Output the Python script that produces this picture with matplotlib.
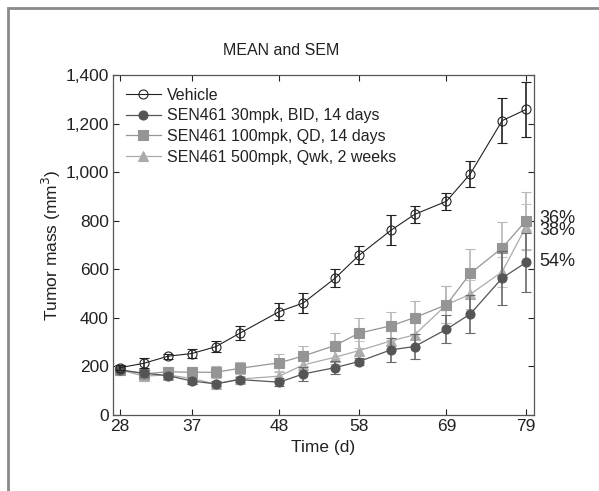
import matplotlib
matplotlib.use("Agg")
import matplotlib.pyplot as plt
from matplotlib.patches import Rectangle
from matplotlib.lines import Line2D
from matplotlib.ticker import FuncFormatter

plt.rcParams['font.family'] = ['Liberation Sans', 'DejaVu Sans']

days = [28, 31, 34, 37, 40, 43, 48, 51, 55, 58, 62, 65, 69, 72, 76, 79]
vehicle = [195, 213, 242, 253, 281, 336, 426, 461, 563, 657, 760, 826, 880, 993, 1212, 1258]
vehicle_sem = [10, 20, 10, 19, 23, 29, 36, 40, 37, 37, 62, 36, 34, 54, 94, 112]
d30 = [185, 172, 162, 140, 128, 146, 135, 169, 195, 220, 268, 282, 353, 416, 564, 628]
d30_sem = [10, 15, 12, 14, 10, 11, 16, 27, 26, 16, 50, 51, 58, 80, 110, 120]
d100 = [187, 169, 178, 176, 176, 192, 215, 243, 286, 337, 367, 401, 454, 583, 688, 800]
d100_sem = [12, 16, 14, 20, 25, 25, 38, 41, 52, 62, 58, 69, 76, 99, 106, 120]
d500 = [186, 160, 165, 150, 128, 148, 160, 206, 238, 265, 305, 330, 454, 497, 590, 775]
d500_sem = [12, 14, 14, 14, 12, 14, 20, 30, 30, 40, 40, 48, 76, 60, 62, 92]

labels = ["Vehicle", "SEN461 30mpk, BID, 14 days", "SEN461 100mpk, QD, 14 days",
          "SEN461 500mpk, Qwk, 2 weeks"]
xticks = [28, 37, 48, 58, 69, 79]
yticks = [0, 200, 400, 600, 800, 1000, 1200, 1400]
pct_labels = ["36%", "38%", "54%"]
pct_values = [807, 760, 630]

fig = plt.figure(figsize=(5.99, 4.91), dpi=100)
ax = fig.add_axes([0.1886, 0.1548, 0.7029, 0.6925])

styles = [
    dict(color='#222222', ecolor='#222222', marker='o', mfc='none', mec='#222222', mew=0.8, lw=0.8),
    dict(color='#555555', ecolor='#6a6a6a', marker='o', mfc='#555555', mec='#555555', mew=0.8, lw=0.9),
    dict(color='#959595', ecolor='#b8b8b8', marker='s', mfc='#959595', mec='#959595', mew=0.8, lw=0.9),
    dict(color='#ababab', ecolor='#c4c4c4', marker='^', mfc='#ababab', mec='#ababab', mew=0.8, lw=0.9),
]
series = [(vehicle, vehicle_sem), (d30, d30_sem), (d100, d100_sem), (d500, d500_sem)]
zorders = [5, 4, 3, 2]

for (vals, sem), st, z in zip(series, styles, zorders):
    ax.errorbar(days, vals, yerr=sem, color=st['color'], ecolor=st['ecolor'],
                marker=st['marker'], markersize=6.5, markerfacecolor=st['mfc'],
                markeredgecolor=st['mec'], markeredgewidth=st['mew'], lw=st['lw'],
                elinewidth=1.2, capsize=3.5, capthick=1.0, zorder=z)

ax.set_xlim(27.1, 80.0)
ax.set_ylim(0, 1400)
ax.set_xticks(xticks)
ax.set_yticks(yticks)
ax.yaxis.set_major_formatter(FuncFormatter(lambda v, p: f"{int(v):,}"))
ax.tick_params(direction='in', top=True, right=True, length=4, width=0.8,
               labelsize=12.5, colors='#222222', pad=3)
for s in ax.spines.values():
    s.set_color('#555555')
    s.set_linewidth(0.9)

ax.set_xlabel("Time (d)", fontsize=12.5, color='#222222', labelpad=4)
ax.set_ylabel("Tumor mass (mm$^3$)", fontsize=12.5, color='#222222', labelpad=2)

handles = [Line2D([], [], color=st['color'], marker=st['marker'], markersize=6.5,
                  markerfacecolor=st['mfc'], markeredgecolor=st['mec'],
                  markeredgewidth=st['mew'], lw=st['lw']) for st in styles]
leg = ax.legend(handles, labels, loc='upper left', frameon=False, fontsize=11.5,
                handlelength=2.2, handletextpad=0.4, labelspacing=0.35,
                borderaxespad=0.4, bbox_to_anchor=(0.0, 1.0))
for t in leg.get_texts():
    t.set_color('#222222')

for lab, v in zip(pct_labels, pct_values):
    ax.annotate(lab, xy=(1.0, v), xycoords=('axes fraction', 'data'),
                xytext=(4, 0), textcoords='offset points', va='center', ha='left',
                fontsize=13, color='#222222', annotation_clip=False)

fig.text(281 / 599, 1 - 50 / 491, "MEAN and SEM", ha='center', va='center',
         fontsize=11.5, color='#222222')

fig.patches.append(Rectangle((8 / 599, -0.1), 1.2, 1 - 8 / 491 + 0.1,
                             transform=fig.transFigure, fill=False,
                             edgecolor='#8a8a8a', linewidth=2.0))

fig.savefig("out.png", dpi=100)
